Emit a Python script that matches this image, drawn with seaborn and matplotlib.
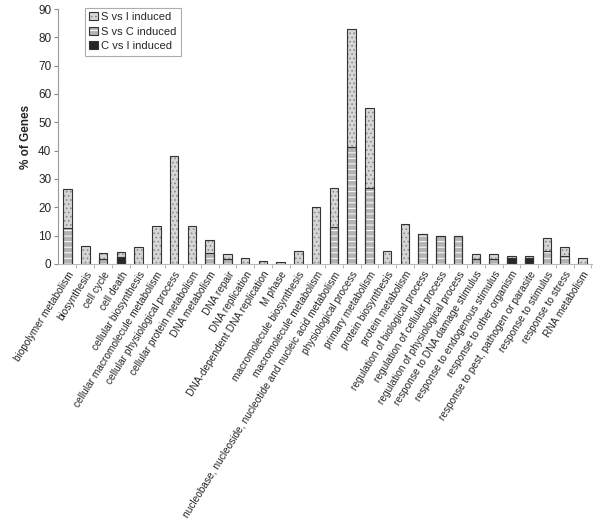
import matplotlib
matplotlib.use("Agg")
import matplotlib.pyplot as plt
import seaborn as sns
import pandas as pd
import numpy as np
from matplotlib.patches import Patch
from matplotlib.legend_handler import HandlerTuple

categories = [
    "biopolymer metabolism", "biosynthesis", "cell cycle", "cell death",
    "cellular biosynthesis", "cellular macromolecule metabolism",
    "cellular physiological process", "cellular protein metabolism",
    "DNA metabolism", "DNA repair", "DNA replication",
    "DNA-dependent DNA replication", "M phase", "macromolecule biosynthesis",
    "macromolecule metabolism",
    "nucleobase, nucleoside, nucleotide and nucleic acid metabolism",
    "physiological process", "primary metabolism", "protein biosynthesis",
    "protein metabolism", "regulation of biological process",
    "regulation of cellular process", "regulation of physiological process",
    "response to DNA damage stimulus", "response to endogenous stimulus",
    "response to other organism", "response to pest, pathogen or parasite",
    "response to stimulus", "response to stress", "RNA metabolism",
]
s_vs_i = [13.8, 6.2, 2.0, 1.5, 5.9, 13.4, 38.1, 13.4, 4.7, 1.9, 2.0, 0.9, 0.6,
          4.5, 20.0, 13.8, 41.5, 28.5, 4.5, 14.2, 0, 0, 0, 1.7, 1.7, 0.8, 0.8,
          4.7, 3.2, 2.0]
s_vs_c = [12.6, 0, 1.8, 0, 0, 0, 0, 0, 3.8, 1.6, 0, 0, 0, 0, 0, 12.9, 41.3,
          26.7, 0, 0, 10.4, 9.9, 9.9, 1.8, 1.8, 0, 0, 4.5, 2.8, 0]
c_vs_i = [0, 0, 0, 2.6, 0, 0, 0, 0, 0, 0, 0, 0, 0, 0, 0, 0, 0, 0, 0, 0, 0, 0,
          0, 0, 0, 2.0, 2.0, 0, 0, 0]
series_names = ["S vs I induced", "S vs C induced", "C vs I induced"]

df = pd.DataFrame({"category": categories, "svi": s_vs_i, "svc": s_vs_c, "cvi": c_vs_i})
df["top"] = df["svi"] + df["svc"] + df["cvi"]
df["mid"] = df["svc"] + df["cvi"]
df["low"] = df["cvi"]

sns.set_style("white")
plt.rcParams["font.family"] = ["Liberation Sans", "DejaVu Sans"]
plt.rcParams["hatch.linewidth"] = 0.7

fig = plt.figure(figsize=(6.0, 5.31), dpi=100)
ax = fig.add_axes([0.097, 0.503, 0.89, 0.480])

W = 0.48
stip = "#d6d6d6"
stipdot = "#8c8c8c"
grayc = "#b3b3b3"
blk = "#262626"
edge = "#333333"

# top layer (stippled)
sns.barplot(data=df, x="category", y="top", order=categories, color=stip,
            width=W, edgecolor=stipdot, hatch="....", linewidth=0, ax=ax,
            saturation=1)
# middle layer (gray with white lines)
sns.barplot(data=df, x="category", y="mid", order=categories, color=grayc,
            width=W, edgecolor="white", hatch="---", linewidth=0, ax=ax,
            saturation=1)
# bottom layer (black)
sns.barplot(data=df, x="category", y="low", order=categories, color=blk,
            width=W, linewidth=0, ax=ax, saturation=1)
# outlines
for col in ["top", "mid", "low"]:
    sns.barplot(data=df, x="category", y=col, order=categories, color=edge,
                width=W, fill=False, linewidth=0.8, ax=ax, saturation=1)
for p in ax.patches:
    if p.get_height() <= 0:
        p.set_visible(False)

ax.set_ylim(0, 90)
ax.set_xlim(-0.53, 29.55)
ax.set_yticks(np.arange(0, 91, 10))
ax.tick_params(axis="y", labelsize=8.5, length=3, direction="out", left=True,
               color="#888888", pad=2)
ax.set_xticks(np.arange(len(categories)))
ax.set_xticklabels(categories, rotation=58, ha="right", rotation_mode="anchor",
                   fontsize=7.3)
ax.tick_params(axis="x", length=0, pad=4)
ax.set_xticks(np.arange(len(categories)) + 0.5, minor=True)
ax.tick_params(axis="x", which="minor", length=3, bottom=True,
               color="#aaaaaa", direction="out")
ax.set_xlabel("")
ax.set_ylabel("% of Genes", fontsize=8.5, fontweight="bold", labelpad=4)
sns.despine(ax=ax, top=True, right=True)
ax.spines["left"].set_color("#999999")
ax.spines["bottom"].set_color("#bbbbbb")
ax.spines["left"].set_linewidth(0.8)
ax.spines["bottom"].set_linewidth(0.8)

outline = dict(facecolor="none", edgecolor=edge, linewidth=0.8)
handles = [
    (Patch(facecolor=stip, edgecolor=stipdot, hatch="....", linewidth=0), Patch(**outline)),
    (Patch(facecolor=grayc, edgecolor="white", hatch="---", linewidth=0), Patch(**outline)),
    (Patch(facecolor=blk, linewidth=0), Patch(**outline)),
]
leg = ax.legend(handles, series_names, loc="upper left",
                bbox_to_anchor=(0.05, 1.005), fontsize=8, frameon=True,
                fancybox=False, edgecolor="#999999", handlelength=0.75,
                handleheight=0.75, handletextpad=0.3, borderpad=0.4,
                labelspacing=0.4, borderaxespad=0,
                handler_map={tuple: HandlerTuple(ndivide=1, pad=0)})
leg.get_frame().set_linewidth(0.8)

fig.savefig("out.png", dpi=100)
